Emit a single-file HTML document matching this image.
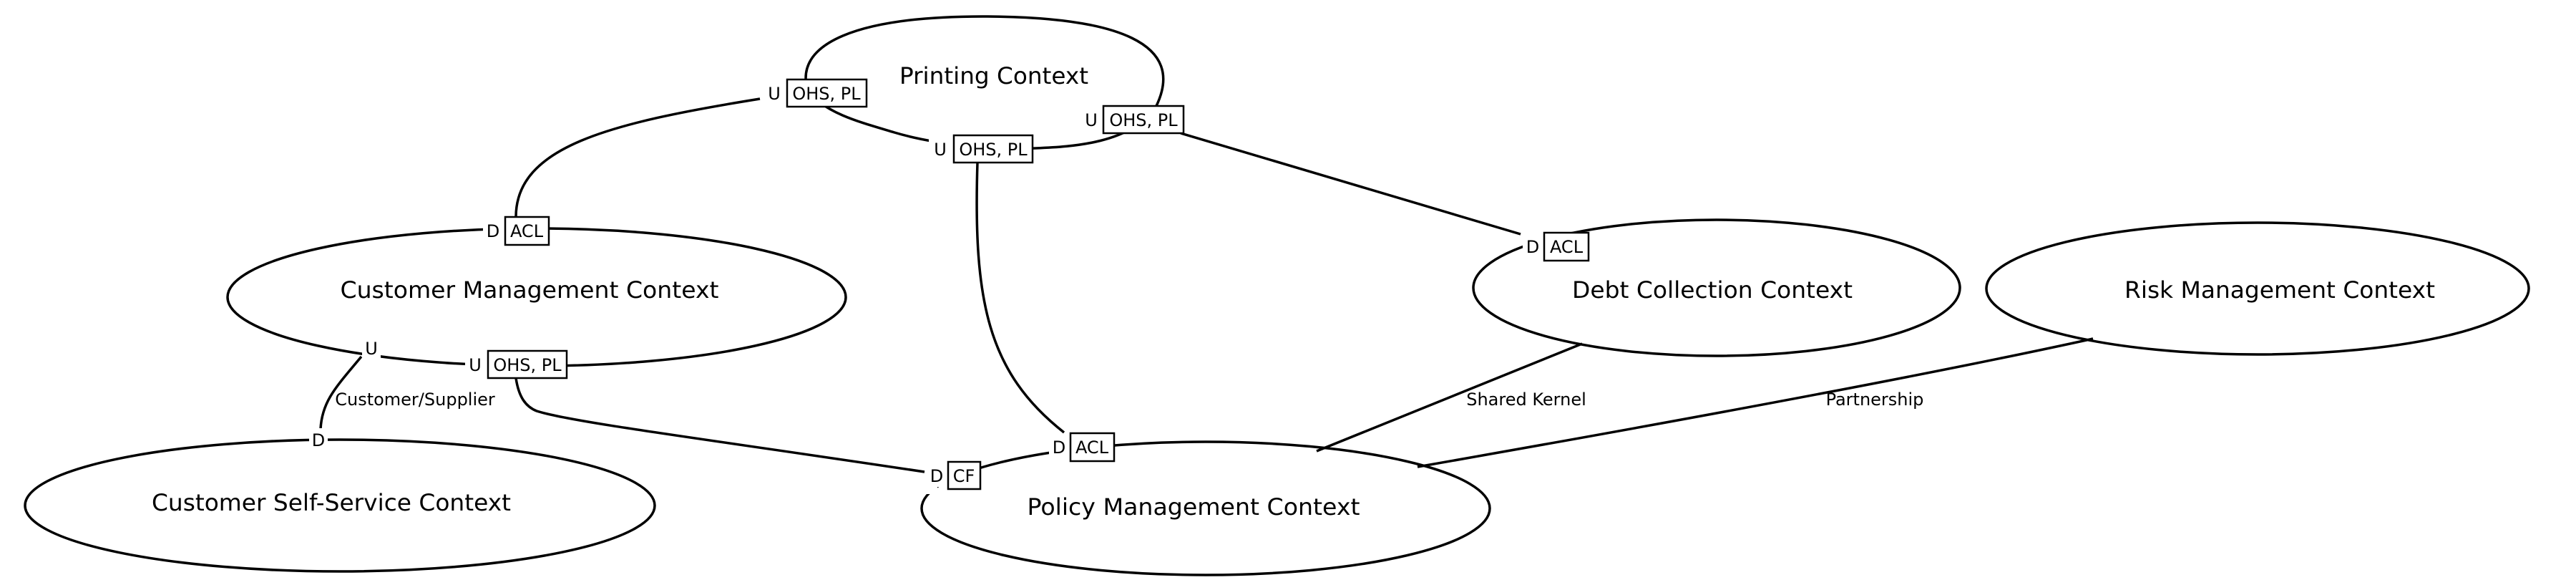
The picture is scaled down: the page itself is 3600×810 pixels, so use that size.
<!DOCTYPE html>
<html><head><meta charset="utf-8"><style>html,body{margin:0;padding:0;background:#fff}svg{display:block}</style></head>
<body>
<svg width="3600" height="810" viewBox="0 0 3600 810" xmlns="http://www.w3.org/2000/svg" font-family="DejaVu Sans, Liberation Sans, sans-serif">
<g fill="none" stroke="#000" stroke-width="3.5">
<path d="M1130,130 C1105,60 1200,22 1380,23 C1560,24 1660,60 1615,150 C1580,200 1500,205 1447,207 C1380,210 1300,200 1250,185 C1200,170 1160,160 1130,130 Z"/>
<ellipse cx="750" cy="415" rx="432" ry="96"/>
<ellipse cx="475" cy="706" rx="440" ry="92"/>
<ellipse cx="1685" cy="710" rx="397" ry="93"/>
<ellipse cx="2399" cy="402" rx="340" ry="95"/>
<ellipse cx="3155" cy="403" rx="379" ry="92"/>
<path d="M1062,138 C850,172 722,205 721,302"/>
<path d="M1366,227 C1360,420 1380,520 1487,604"/>
<path d="M1650,186 L2125,327"/>
<path d="M721,528 C725,555 735,568 750,574 C800,590 1000,615 1292,659"/>
<path d="M505,498 C470,540 450,560 448,599"/>
<path d="M2211,480 L1840,630"/>
<path d="M2925,473 Q2620,540 1981,652"/>
</g>
<g fill="#fff" stroke="none">
<rect x="1068" y="112" width="30" height="34"/>
<rect x="1298" y="186" width="34" height="40"/>
<rect x="1508" y="146" width="34" height="40"/>
<rect x="675" y="304" width="30" height="36"/>
<rect x="506" y="470" width="26" height="32"/>
<rect x="650" y="490" width="31" height="38"/>
<rect x="432" y="598" width="26" height="32"/>
<rect x="1295" y="646" width="29" height="34"/>
<rect x="1290" y="680" width="20" height="10"/>
<rect x="1466" y="606" width="29" height="34"/>
<rect x="2128" y="326" width="29" height="36"/>
</g>
<g fill="#fff" stroke="#000" stroke-width="2.5">
<rect x="1100" y="111" width="111" height="38"/>
<rect x="1333" y="189" width="110" height="38"/>
<rect x="1542" y="148" width="112" height="38"/>
<rect x="706" y="303" width="61" height="39"/>
<rect x="682" y="490" width="110" height="38"/>
<rect x="1325" y="645" width="45" height="38"/>
<rect x="1496" y="605" width="61" height="39"/>
<rect x="2158" y="325" width="62" height="39"/>
</g>
<g font-size="24" fill="#000" text-anchor="middle">
<text x="1155" y="139">OHS, PL</text><text x="1082" y="139">U</text>
<text x="1388" y="217">OHS, PL</text><text x="1314" y="217">U</text>
<text x="1598" y="176">OHS, PL</text><text x="1525" y="176">U</text>
<text x="736" y="331">ACL</text><text x="689" y="331">D</text>
<text x="519" y="495">U</text>
<text x="737" y="518">OHS, PL</text><text x="664" y="518">U</text>
<text x="445" y="623">D</text>
<text x="1347" y="673">CF</text><text x="1309" y="673">D</text>
<text x="1526" y="633">ACL</text><text x="1480" y="633">D</text>
<text x="2189" y="353">ACL</text><text x="2142" y="353">D</text>
<text x="580" y="566">Customer/Supplier</text>
<text x="2133" y="566">Shared Kernel</text>
<text x="2620" y="566">Partnership</text>
</g>
<g font-size="32" fill="#000" text-anchor="middle">
<text x="1389" y="117" textLength="264" lengthAdjust="spacingAndGlyphs">Printing Context</text>
<text x="740" y="416" textLength="529" lengthAdjust="spacingAndGlyphs">Customer Management Context</text>
<text x="463" y="713" textLength="502" lengthAdjust="spacingAndGlyphs">Customer Self-Service Context</text>
<text x="1668" y="719" textLength="465" lengthAdjust="spacingAndGlyphs">Policy Management Context</text>
<text x="2393" y="416" textLength="392" lengthAdjust="spacingAndGlyphs">Debt Collection Context</text>
<text x="3186" y="416" textLength="434" lengthAdjust="spacingAndGlyphs">Risk Management Context</text>
</g>
</svg>
</body></html>
